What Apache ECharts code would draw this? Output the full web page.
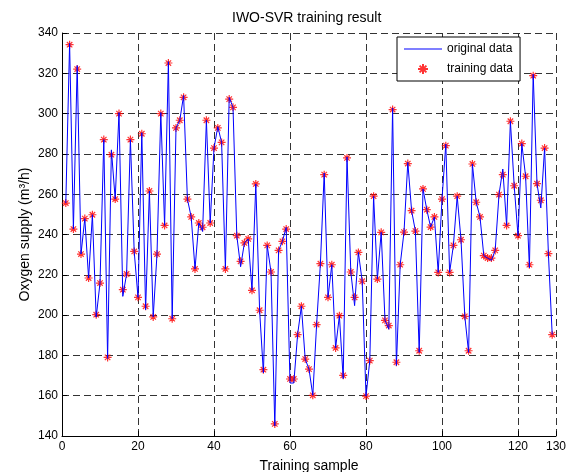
<!DOCTYPE html>
<html>
<head>
<meta charset="utf-8">
<script src="https://cdn.jsdelivr.net/npm/echarts@6/dist/echarts.min.js"></script>
<style>
  html, body { margin: 0; padding: 0; background: #fff; }
  #chart { width: 578px; height: 472px; }
</style>
</head>
<body>
<div id="chart"></div>
<script>
// values, sample 1..129
var trainingData = [
    255.6, 334.2, 242.7, 322.1, 230.3, 247.9, 218.4, 249.8, 200.2, 215.9,
    287.1, 179.0, 279.6, 257.6, 300.0, 212.6, 220.4, 287.1, 231.6, 208.8,
    290.0, 204.4, 261.6, 199.1, 230.3, 300.0, 244.5, 325.1, 198.2, 292.9,
    296.7, 308.1, 257.6, 248.7, 222.9, 245.7, 243.6, 296.7, 245.7, 282.9,
    292.9, 285.7, 222.9, 307.2, 303.1, 239.4, 226.7, 235.8, 237.8, 212.3,
    265.1, 202.4, 172.9, 234.6, 221.4, 146.0, 232.1, 236.6, 242.7, 168.3,
    168.3, 190.3, 204.4, 178.2, 173.2, 160.2, 195.3, 225.5, 269.7, 208.8,
    225.0, 183.7, 199.7, 170.1, 278.0, 221.4, 208.8, 231.1, 216.8, 159.8,
    177.4, 259.0, 217.9, 241.1, 197.4, 194.8, 302.0, 176.6, 225.0, 241.2,
    275.2, 251.8, 241.7, 182.3, 262.6, 252.3, 243.7, 248.7, 221.2, 257.6,
    284.1, 221.2, 234.6, 259.0, 237.4, 199.4, 182.3, 275.0, 256.0, 248.7,
    229.5, 228.3, 228.3, 232.1, 259.8, 269.7, 244.5, 296.2, 264.2, 239.4,
    285.1, 268.9, 225.0, 318.8, 265.2, 257.0, 282.9, 230.5, 190.3
];
var originalData = [
    255.6, 334.8, 242.7, 323.8, 230.3, 247.9, 218.4, 249.8, 199.0, 215.9,
    287.1, 178.5, 282.0, 257.6, 300.5, 209.3, 220.4, 287.1, 231.6, 208.8,
    290.5, 202.7, 261.6, 199.1, 230.3, 300.5, 244.5, 325.8, 198.2, 292.9,
    296.7, 309.0, 257.6, 248.7, 222.9, 245.7, 241.5, 296.7, 245.7, 282.9,
    293.5, 285.7, 222.9, 308.0, 303.1, 239.4, 224.0, 235.8, 237.8, 212.3,
    265.1, 202.4, 171.3, 234.6, 221.4, 145.0, 232.1, 236.6, 243.5, 166.3,
    166.3, 190.3, 204.4, 178.2, 173.2, 160.2, 195.3, 225.5, 270.5, 208.8,
    225.0, 183.7, 199.7, 168.5, 278.5, 221.4, 204.7, 231.1, 216.8, 159.8,
    177.4, 259.0, 217.9, 241.1, 197.4, 193.0, 302.8, 175.0, 225.0, 241.2,
    275.8, 251.8, 241.7, 181.5, 262.6, 252.3, 243.7, 248.7, 221.2, 257.6,
    284.8, 221.2, 234.6, 259.0, 237.4, 199.4, 181.5, 275.0, 256.0, 248.7,
    229.5, 228.3, 227.2, 232.1, 259.8, 272.5, 244.5, 296.2, 264.2, 239.4,
    285.1, 268.9, 223.5, 319.5, 265.2, 253.2, 282.9, 230.5, 190.3
];
var seriesNames = ['original data', 'training data'];
var titleText = 'IWO-SVR training result';
var xName = 'Training sample';
var yName = 'Oxygen supply (m\u00b3/h)';

var fontFamily = 'Arial, "Liberation Sans", sans-serif';
var asterisk = 'path://M5,0L5,10M0,5L10,5M1.6,1.6L8.4,8.4M1.6,8.4L8.4,1.6';
var lineIcon = 'path://M0,0L38,0L38,1L0,1Z';
var gridDash = { color: '#333', width: 1, type: [7, 4] };

function toPairs(values) {
    var out = [];
    for (var i = 0; i < values.length; i++) {
        out.push([i + 1, values[i]]);
    }
    return out;
}

var option = {
    animation: false,
    backgroundColor: '#fff',
    title: {
        text: titleText,
        left: 232,
        top: 11,
        padding: 0,
        textStyle: { fontFamily: fontFamily, fontSize: 14, fontWeight: 'normal', color: '#000' }
    },
    legend: {
        orient: 'vertical',
        left: 397,
        top: 37,
        padding: [6, 7, 6, 7],
        itemGap: 8,
        itemWidth: 38,
        itemHeight: 10,
        borderColor: '#000',
        borderWidth: 1,
        backgroundColor: '#fff',
        textStyle: { fontFamily: fontFamily, fontSize: 12, color: '#000' },
        data: [
            { name: seriesNames[0], icon: lineIcon, itemStyle: { color: '#0000ff', borderWidth: 0 } },
            { name: seriesNames[1] }
        ]
    },
    grid: {
        left: 62,
        right: 22,
        top: 33,
        bottom: 36,
        outerBoundsMode: 'none'
    },
    xAxis: {
        type: 'value',
        min: 0,
        max: 130,
        interval: 20,
        name: xName,
        nameLocation: 'middle',
        nameGap: 23,
        nameMoveOverlap: false,
        nameTextStyle: { fontFamily: fontFamily, fontSize: 14, color: '#000' },
        axisLine: { lineStyle: { color: '#000', width: 1 } },
        axisTick: { inside: true, length: 5, lineStyle: { color: '#000' } },
        axisLabel: { fontFamily: fontFamily, fontSize: 12, color: '#000', margin: 5 },
        splitLine: { show: true, lineStyle: gridDash }
    },
    yAxis: {
        type: 'value',
        min: 140,
        max: 340,
        interval: 20,
        name: yName,
        nameLocation: 'middle',
        nameGap: 30,
        nameMoveOverlap: false,
        nameTextStyle: { fontFamily: fontFamily, fontSize: 14, color: '#000' },
        axisLine: { show: true, lineStyle: { color: '#000', width: 1 } },
        axisTick: { show: true, inside: true, length: 5, lineStyle: { color: '#000' } },
        axisLabel: { fontFamily: fontFamily, fontSize: 12, color: '#000', margin: 4 },
        splitLine: { show: true, lineStyle: gridDash }
    },
    series: [
        {
            name: seriesNames[0],
            type: 'line',
            symbol: 'none',
            lineStyle: { color: '#0000ff', width: 1 },
            itemStyle: { color: '#0000ff' },
            data: toPairs(originalData)
        },
        {
            name: seriesNames[1],
            type: 'scatter',
            symbol: asterisk,
            symbolSize: 8,
            symbolKeepAspect: true,
            itemStyle: { color: 'rgba(0,0,0,0)', borderColor: '#ff0000', borderWidth: 1.2 },
            data: toPairs(trainingData)
        }
    ]
};

var myChart = echarts.init(document.getElementById('chart'));
myChart.setOption(option);
</script>
</body>
</html>
